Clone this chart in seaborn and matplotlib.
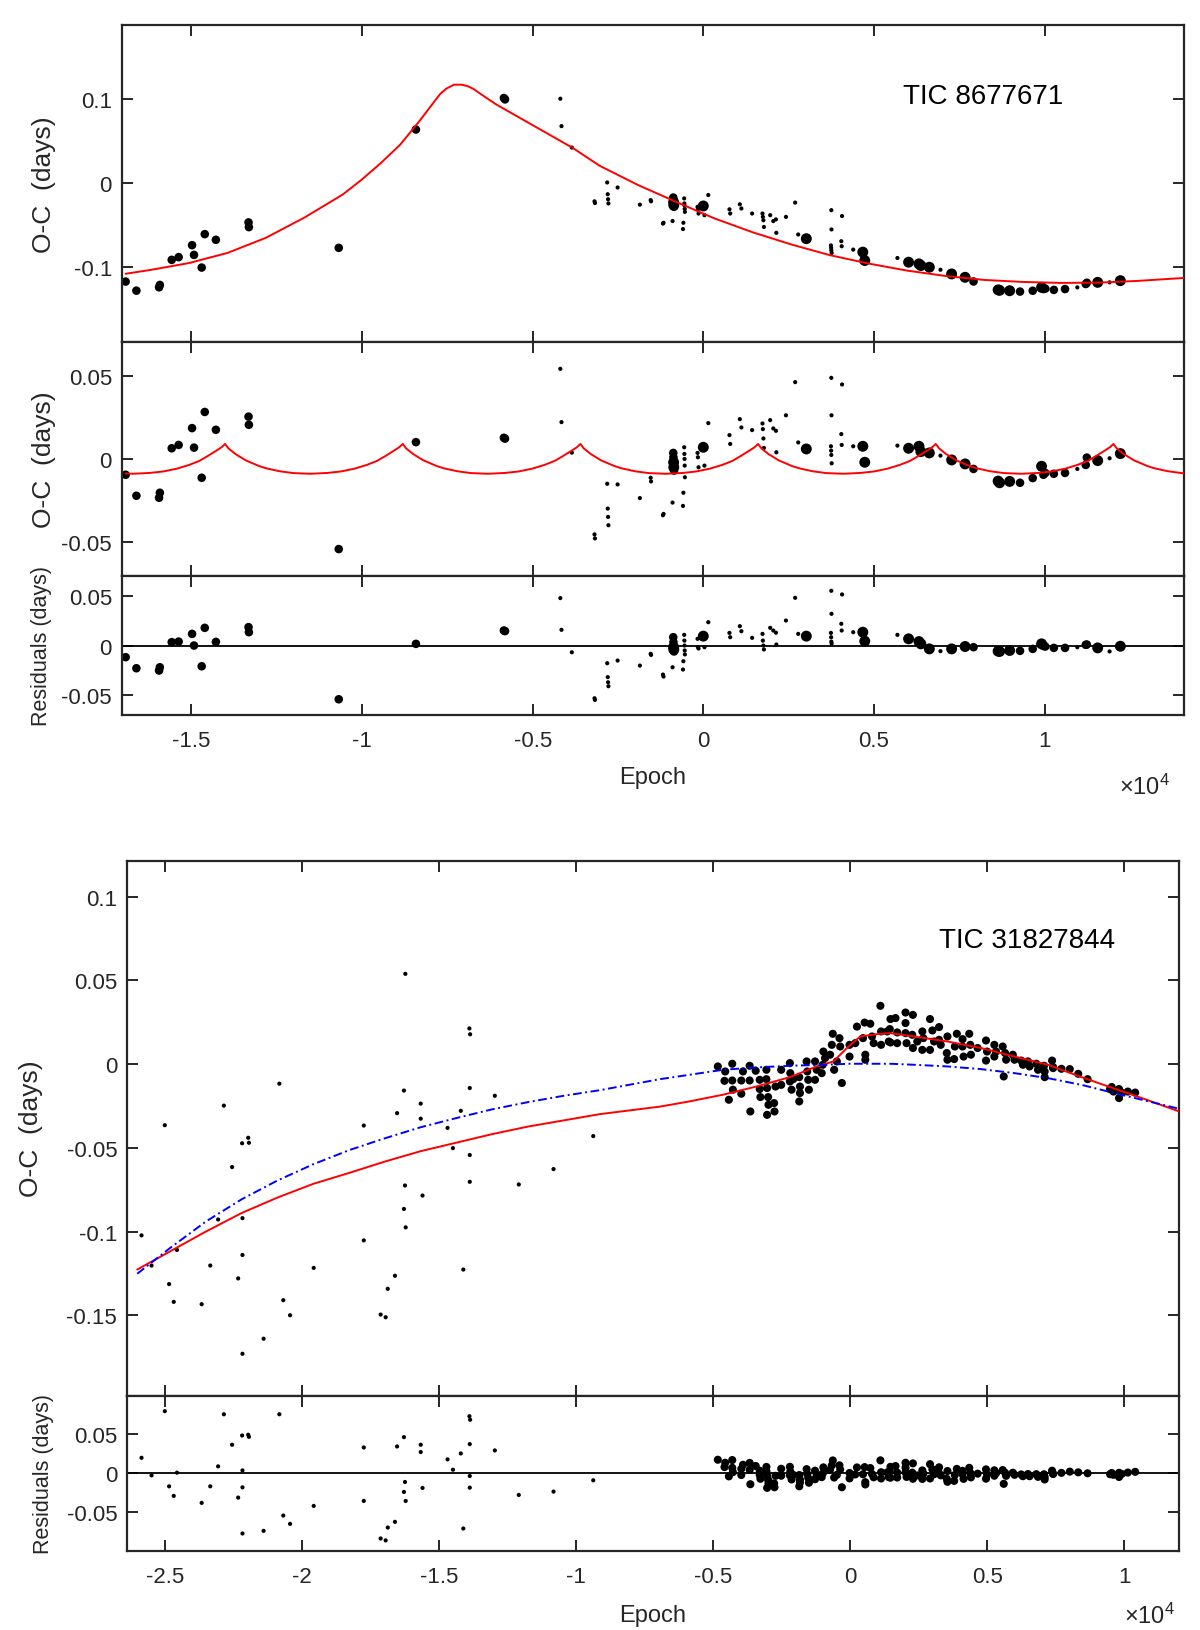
import numpy as np
import pandas as pd
import seaborn as sns
import matplotlib.pyplot as plt

# ---------------- TIC 8677671 (upper figure) ----------------
# epoch, O-C, O-C minus first fit, final residuals, point weight (1 small .. 3 large)
epoch_a = [-16924, -16609, -15945, -15922, -15574, -15371, -14978, -14921, -14696, -14606,
           -14280, -13324, -13313, -10681, -8419, -5843, -5809, -4189, -4155, -3852,
           -3187, -3175, -2815, -2800, -2790, -2780, -2511, -1858, -1543, -1530,
           -1182, -1165, -901, -880, -875, -870, -865, -858, -596, -584,
           -560, -555, -550, -545, -540, -169, -158, -140, 0, 34,
           146, 766, 788, 1070, 1115, 1430, 1734, 1745, 1760, 1775,
           1959, 2050, 2128, 2140, 2421, 2691, 2781, 3018, 3750, 3755,
           3739, 3745, 3750, 3760, 4043, 4054, 4065, 4392, 4673, 4730,
           5687, 6014, 6318, 6374, 6622, 6948, 7275, 7669, 7917, 8637,
           8680, 8975, 9279, 9651, 9910, 9966, 10020, 10270, 10597, 10957,
           11205, 11236, 11554, 11903, 12218]
oc_a = [-0.1171, -0.1279, -0.1239, -0.1211, -0.0912, -0.0880, -0.0737, -0.0853, -0.1004, -0.0606,
        -0.0673, -0.0466, -0.0522, -0.0769, 0.0641, 0.1016, 0.1000, 0.1008, 0.0681, 0.0426,
        -0.0215, -0.0235, 0.0010, -0.0130, -0.0190, -0.0240, -0.0050, -0.0255, -0.0200, -0.0215,
        -0.0480, -0.0470, -0.0450, -0.0170, -0.0200, -0.0225, -0.0260, -0.0280, -0.0545, -0.0470,
        -0.0180, -0.0240, -0.0265, -0.0305, -0.0340, -0.0280, -0.0310, -0.0360, -0.0270, -0.0380,
        -0.0140, -0.0310, -0.0360, -0.0250, -0.0300, -0.0360, -0.0360, -0.0400, -0.0440, -0.0520,
        -0.0380, -0.0450, -0.0430, -0.0590, -0.0400, -0.0230, -0.0610, -0.0660, -0.0320, -0.0550,
        -0.0740, -0.0770, -0.0800, -0.0830, -0.0690, -0.0750, -0.0390, -0.0790, -0.0820, -0.0920,
        -0.0890, -0.0940, -0.0960, -0.0980, -0.1000, -0.1030, -0.1080, -0.1120, -0.1170, -0.1270,
        -0.1275, -0.1280, -0.1290, -0.1280, -0.1240, -0.1260, -0.1255, -0.1270, -0.1260, -0.1240,
        -0.1200, -0.1185, -0.1180, -0.1180, -0.1160]
lite_a = [-0.0095, -0.0221, -0.0233, -0.0203, 0.0064, 0.0084, 0.0185, 0.0068, -0.0113, 0.0282,
          0.0175, 0.0254, 0.0205, -0.0541, 0.0101, 0.0127, 0.0122, 0.0541, 0.0221, 0.0038,
          -0.0453, -0.0477, -0.0149, -0.0298, -0.0348, -0.0398, -0.0153, -0.0235, -0.0113, -0.0135,
          -0.0338, -0.0330, -0.0262, 0.0036, 0.0010, -0.0020, -0.0050, -0.0070, -0.0282, -0.0203,
          0.0070, 0.0030, 0.0000, -0.0040, -0.0110, 0.0036, 0.0010, -0.0050, 0.0070, -0.0040,
          0.0215, 0.0143, 0.0090, 0.0239, 0.0189, 0.0173, 0.0213, 0.0179, 0.0123, 0.0066,
          0.0233, 0.0183, 0.0169, 0.0040, 0.0262, 0.0461, 0.0099, 0.0060, 0.0487, 0.0262,
          0.0076, 0.0050, 0.0024, -0.0026, 0.0149, 0.0084, 0.0447, 0.0076, 0.0076, -0.0020,
          0.0080, 0.0064, 0.0076, 0.0044, 0.0036, 0.0020, -0.0006, -0.0030, -0.0060, -0.0133,
          -0.0143, -0.0135, -0.0143, -0.0115, -0.0044, -0.0095, -0.0084, -0.0089, -0.0084, -0.0060,
          -0.0036, 0.0008, -0.0010, 0.0004, 0.0032]
res_a = [-0.0118, -0.0230, -0.0253, -0.0220, 0.0034, 0.0040, 0.0118, 0.0000, -0.0210, 0.0179,
         0.0037, 0.0186, 0.0135, -0.0544, 0.0017, 0.0152, 0.0146, 0.0480, 0.0159, -0.0068,
         -0.0534, -0.0550, -0.0179, -0.0320, -0.0372, -0.0412, -0.0152, -0.0203, -0.0084, -0.0095,
         -0.0294, -0.0314, -0.0220, 0.0084, 0.0034, -0.0017, -0.0040, -0.0060, -0.0243, -0.0159,
         0.0108, 0.0050, 0.0000, -0.0050, -0.0090, 0.0068, -0.0017, -0.0030, 0.0095, -0.0017,
         0.0236, 0.0128, 0.0084, 0.0196, 0.0145, 0.0078, 0.0118, 0.0050, 0.0000, -0.0040,
         0.0179, 0.0152, 0.0130, 0.0010, 0.0253, 0.0483, 0.0118, 0.0095, 0.0554, 0.0321,
         0.0128, 0.0084, 0.0040, 0.0020, 0.0220, 0.0152, 0.0517, 0.0135, 0.0135, 0.0044,
         0.0108, 0.0068, 0.0040, 0.0017, -0.0034, -0.0057, -0.0034, -0.0010, -0.0017, -0.0057,
         -0.0060, -0.0050, -0.0054, -0.0034, 0.0017, -0.0005, -0.0010, -0.0024, -0.0024, -0.0017,
         0.0007, 0.0010, -0.0024, -0.0060, -0.0007]
weight_a = [2, 2, 2, 2, 2, 2, 2, 2, 2, 2,
            2, 2, 2, 2, 2, 2, 2, 1, 1, 1,
            1, 1, 1, 1, 1, 1, 1, 1, 1, 1,
            1, 1, 1, 2, 2, 3, 3, 2, 1, 1,
            1, 1, 1, 1, 1, 1, 1, 1, 3, 1,
            1, 1, 1, 1, 1, 1, 1, 1, 1, 1,
            1, 1, 1, 1, 1, 1, 1, 3, 1, 1,
            1, 1, 1, 1, 1, 1, 1, 1, 3, 3,
            1, 3, 3, 3, 3, 1, 3, 3, 2, 3,
            3, 3, 2, 2, 3, 2, 2, 2, 2, 1,
            2, 2, 3, 1, 3]

# long-period fit (upper panel)
fit1_epoch = [-16924, -16192, -15067, -13943, -12818, -11693, -10568, -10006, -9443, -8881,
              -8319, -8094, -7869, -7700, -7531, -7306, -7081, -6913, -6744, -6406,
              -6069, -4944, -3819, -3041, -1914, -788, 338, 1464, 2590, 3716,
              4842, 5968, 7095, 8221, 9347, 10473, 11599, 12725, 14070]
fit1_oc = [-0.1078, -0.1032, -0.0950, -0.0830, -0.0650, -0.0410, -0.0135, 0.0044, 0.0243, 0.0460,
           0.0740, 0.0860, 0.0980, 0.1068, 0.1127, 0.1175, 0.1175, 0.1159, 0.1127, 0.1032,
           0.0940, 0.0680, 0.0420, 0.0210, -0.0020, -0.0223, -0.0420, -0.0586, -0.0730, -0.0857,
           -0.0956, -0.1040, -0.1104, -0.1151, -0.1175, -0.1187, -0.1183, -0.1163, -0.1128]

# short-period fit (middle panel)
fit2_epoch = [-16924, -16715, -16215, -15815, -15415, -15065, -14765, -14515, -14265, -14115,
              -14010, -13910, -13710, -13410, -13010, -12810, -12410, -12010, -11510, -11010,
              -10610, -10210, -9860, -9560, -9310, -9060, -8910,
              -8805, -8705, -8505, -8205, -7805, -7605, -7205, -6805, -6305, -5805,
              -5405, -5005, -4655, -4355, -4105, -3855, -3705,
              -3600, -3500, -3300, -3000, -2600, -2400, -2000, -1600, -1100, -600,
              -200, 200, 550, 850, 1100, 1350, 1500,
              1605, 1705, 1905, 2205, 2605, 2805, 3205, 3605, 4105, 4605,
              5005, 5405, 5755, 6055, 6305, 6555, 6705,
              6810, 6910, 7110, 7410, 7810, 8010, 8410, 8810, 9310, 9810,
              10210, 10610, 10960, 11260, 11510, 11760, 11910,
              12015, 12115, 12315, 12615, 13015, 13215, 13615, 14015, 14070]
fit2_oc = [-0.0087, -0.0089, -0.0084, -0.0075, -0.0058, -0.0036, -0.0012, 0.0018, 0.0050, 0.0070,
           0.0090, 0.0063, 0.0030, -0.0008, -0.0043, -0.0056, -0.0074, -0.0085, -0.0089, -0.0084,
           -0.0075, -0.0058, -0.0036, -0.0012, 0.0018, 0.0050, 0.0070,
           0.0090, 0.0063, 0.0030, -0.0008, -0.0043, -0.0056, -0.0074, -0.0085, -0.0089, -0.0084,
           -0.0075, -0.0058, -0.0036, -0.0012, 0.0018, 0.0050, 0.0070,
           0.0090, 0.0063, 0.0030, -0.0008, -0.0043, -0.0056, -0.0074, -0.0085, -0.0089, -0.0084,
           -0.0075, -0.0058, -0.0036, -0.0012, 0.0018, 0.0050, 0.0070,
           0.0090, 0.0063, 0.0030, -0.0008, -0.0043, -0.0056, -0.0074, -0.0085, -0.0089, -0.0084,
           -0.0075, -0.0058, -0.0036, -0.0012, 0.0018, 0.0050, 0.0070,
           0.0090, 0.0063, 0.0030, -0.0008, -0.0043, -0.0056, -0.0074, -0.0085, -0.0089, -0.0084,
           -0.0075, -0.0058, -0.0036, -0.0012, 0.0018, 0.0050, 0.0070,
           0.0090, 0.0063, 0.0030, -0.0008, -0.0043, -0.0056, -0.0074, -0.0085, -0.0086]

# ---------------- TIC 31827844 (lower figure) ----------------
epoch_old = [-25849, -25483, -25000, -24843, -24674, -24556, -23655, -23342, -23055, -22846,
             -22546, -22324, -22180, -22167, -22167, -22167, -21958, -21932, -21397, -20822,
             -20679, -20431, -19569, -17742, -17742, -17128, -16945, -16867, -16606, -16527,
             -16279, -16279, -16240, -16227, -16214, -15666, -15666, -15600, -14687, -14491,
             -14204, -14112, -13890, -13864, -13877, -13877, -13877, -12963, -12089, -10822,
             -9373]
oc_old = [-0.1023, -0.1203, -0.0365, -0.1314, -0.1420, -0.1110, -0.1434, -0.1203, -0.0928, -0.0248,
          -0.0615, -0.1280, -0.0473, -0.0920, -0.1140, -0.1730, -0.0440, -0.0470, -0.1640, -0.0117,
          -0.1410, -0.1500, -0.1217, -0.0367, -0.1053, -0.1496, -0.1512, -0.1342, -0.1264, -0.0293,
          -0.0158, -0.0865, -0.0725, 0.0539, -0.0975, -0.0236, -0.0326, -0.0785, -0.0381, -0.0502,
          -0.0279, -0.1227, 0.0213, 0.0178, -0.0143, -0.0543, -0.0703, -0.0189, -0.0719, -0.0627,
          -0.0430]
res_old = [0.0200, -0.0026, 0.0800, -0.0167, -0.0290, 0.0009, -0.0380, -0.0167, 0.0090, 0.0760,
           0.0368, -0.0312, 0.0487, 0.0038, -0.0180, -0.0774, 0.0496, 0.0470, -0.0740, 0.0760,
           -0.0543, -0.0650, -0.0419, 0.0333, -0.0355, -0.0838, -0.0863, -0.0697, -0.0624, 0.0346,
           0.0466, -0.0239, -0.0111, 0.1160, -0.0355, 0.0368, 0.0274, -0.0188, 0.0180, 0.0047,
           0.0256, -0.0710, 0.0735, 0.0690, 0.0376, -0.0034, -0.0184, 0.0295, -0.0278, -0.0235,
           -0.0090]

epoch_tess = [-4830, -4560, -4586, -4303, -4303, -4280, -4427, -3973, -3973, -3912,
              -3668, -3668, -3643, -3448, -3301, -3301, -3276, -3057, -3057, -3032,
              -2995, -2982, -3032, -2776, -2762, -2725, -2518, -2518, -2201, -2186,
              -2201, -2139, -2079, -1859, -1834, -1834, -1859, -1591, -1568, -1532,
              -1507, -1284, -1223, -1284, -1040, -1003, -980, -918, -734, -672,
              -636, -587, -488, -393, -367, -305, -25, -25, 183, 245,
              465, 525, 550, 550, 733, 795, 855, 1100, 1125, 1125,
              1345, 1406, 1467, 1651, 1443, 1713, 2017, 2017, 2286, 1467,
              1713, 2017, 2054, 2262, 2286, 2446, 2629, 2629, 2666, 2910,
              2910, 2996, 3056, 3240, 3240, 3302, 3546, 3521, 3546, 3815,
              3790, 3888, 4097, 4134, 4097, 4341, 4378, 4402, 4647, 4952,
              4989, 4952, 5256, 5256, 5318, 5562, 5599, 5648, 5685, 5930,
              5991, 6236, 6297, 6481, 6540, 6786, 6848, 7068, 7091, 7091,
              7362, 7399, 7399, 7703, 8008, 8316, 8657, 9476, 9537, 9599,
              9804, 9804, 9904, 10124, 10393]
oc_tess = [-0.0014, -0.0044, -0.0100, 0.0002, -0.0098, -0.0153, -0.0213, -0.0098, -0.0177, -0.0044,
           -0.0010, -0.0098, -0.0283, -0.0040, -0.0094, -0.0149, -0.0197, -0.0034, -0.0090, -0.0143,
           -0.0197, -0.0243, -0.0303, -0.0233, -0.0283, -0.0134, -0.0124, -0.0034, 0.0006, -0.0054,
           -0.0104, -0.0153, -0.0090, -0.0078, -0.0134, -0.0173, -0.0223, 0.0016, -0.0044, -0.0094,
           -0.0153, 0.0016, -0.0034, -0.0094, -0.0054, -0.0004, 0.0075, 0.0036, 0.0056, 0.0115,
           0.0181, -0.0034, 0.0016, 0.0155, 0.0105, -0.0113, 0.0115, 0.0045, 0.0125, 0.0224,
           0.0155, 0.0248, 0.0056, 0.0026, 0.0241, 0.0165, 0.0125, 0.0348, 0.0195, 0.0115,
           0.0195, 0.0135, 0.0269, 0.0275, 0.0209, 0.0189, 0.0308, 0.0245, 0.0294, 0.0129,
           0.0125, 0.0185, 0.0125, 0.0175, 0.0096, 0.0135, 0.0195, 0.0085, 0.0155, 0.0269,
           0.0085, 0.0201, 0.0135, 0.0221, 0.0145, 0.0115, 0.0165, 0.0066, 0.0026, 0.0105,
           0.0030, 0.0181, 0.0149, 0.0045, 0.0105, 0.0181, 0.0115, 0.0056, 0.0096, 0.0141,
           0.0075, 0.0021, 0.0115, 0.0045, 0.0075, 0.0105, -0.0074, 0.0066, 0.0026, 0.0056,
           0.0026, 0.0021, -0.0004, 0.0016, -0.0014, 0.0002, -0.0034, -0.0010, -0.0078, -0.0044,
           0.0021, -0.0024, -0.0018, -0.0028, -0.0030, -0.0058, -0.0090, -0.0149, -0.0137, -0.0164,
           -0.0149, -0.0203, -0.0170, -0.0164, -0.0170]
res_tess = [0.0175, 0.0136, 0.0081, 0.0171, 0.0071, 0.0015, -0.0039, 0.0058, -0.0021, 0.0110,
            0.0134, 0.0046, -0.0140, 0.0095, 0.0034, -0.0021, -0.0070, 0.0083, 0.0027, -0.0027,
            -0.0083, -0.0129, -0.0187, -0.0129, -0.0179, -0.0032, -0.0031, 0.0059, 0.0084, 0.0023,
            -0.0026, -0.0079, -0.0020, -0.0022, -0.0080, -0.0119, -0.0167, 0.0054, -0.0008, -0.0060,
            -0.0121, 0.0034, -0.0020, -0.0076, -0.0049, -0.0001, 0.0077, 0.0035, 0.0046, 0.0102,
            0.0166, -0.0054, -0.0020, 0.0103, 0.0049, -0.0179, 0.0005, -0.0065, -0.0014, 0.0076,
            -0.0012, 0.0080, -0.0113, -0.0143, 0.0068, -0.0010, -0.0051, 0.0167, 0.0014, -0.0066,
            0.0012, -0.0049, 0.0084, 0.0094, 0.0024, 0.0010, 0.0136, 0.0073, 0.0128, -0.0056,
            -0.0054, 0.0013, -0.0046, 0.0009, -0.0070, -0.0027, 0.0038, -0.0072, -0.0002, 0.0118,
            -0.0066, 0.0052, -0.0012, 0.0078, 0.0002, -0.0026, 0.0030, -0.0070, -0.0109, -0.0021,
            -0.0097, 0.0057, 0.0032, -0.0071, -0.0012, 0.0071, 0.0006, -0.0052, -0.0004, 0.0051,
            -0.0013, -0.0069, 0.0039, -0.0031, 0.0002, 0.0042, -0.0135, 0.0007, -0.0032, 0.0008,
            -0.0019, -0.0014, -0.0037, -0.0009, -0.0037, -0.0011, -0.0045, -0.0012, -0.0079, -0.0045,
            0.0034, -0.0009, -0.0003, 0.0006, 0.0022, 0.0013, 0.0001, -0.0011, 0.0004, -0.0019,
            0.0007, -0.0047, -0.0008, 0.0010, 0.0019]

# full fit (red) and quadratic only (blue)
fitb_epoch = [-26005, -24804, -23499, -22193, -20888, -19582, -18277, -16971, -15666, -14360,
              -13054, -11749, -10443, -9137, -6943, -5869, -4647, -3424, -2201, -1223,
              -611, -121, 367, 978, 1467, 2323, 3546, 4768, 5991, 7213,
              8437, 9415, 10638, 12000]
fitb_oc = [-0.1227, -0.1118, -0.1000, -0.0889, -0.0797, -0.0715, -0.0650, -0.0582, -0.0520, -0.0469,
           -0.0418, -0.0373, -0.0336, -0.0299, -0.0254, -0.0223, -0.0183, -0.0134, -0.0078, -0.0014,
           0.0016, 0.0096, 0.0165, 0.0179, 0.0185, 0.0165, 0.0135, 0.0096, 0.0045, -0.0004,
           -0.0078, -0.0134, -0.0203, -0.0283]
quad_epoch = [-26005, -24804, -23499, -22193, -20888, -19582, -18277, -16971, -15666, -14360,
              -13054, -11749, -10443, -9137, -6943, -5869, -4647, -3424, -2201, -980,
              0, 1467, 2323, 3546, 4768, 5991, 7213, 8437, 9415, 10638,
              12000]
quad_oc = [-0.1252, -0.1098, -0.0940, -0.0807, -0.0695, -0.0598, -0.0514, -0.0443, -0.0377, -0.0322,
           -0.0270, -0.0227, -0.0189, -0.0156, -0.0090, -0.0064, -0.0034, -0.0020, -0.0010, -0.0004,
           0.0002, 0.0002, -0.0004, -0.0014, -0.0030, -0.0054, -0.0084, -0.0124, -0.0164, -0.0213,
           -0.0267]

xt_a = [-15000, -10000, -5000, 0, 5000, 10000]
xt_a_lab = ['-1.5', '-1', '-0.5', '0', '0.5', '1']
xt_b = [-25000, -20000, -15000, -10000, -5000, 0, 5000, 10000]
xt_b_lab = ['-2.5', '-2', '-1.5', '-1', '-0.5', '0', '0.5', '1']

# ---------------- style ----------------
sns.set_theme(style='white')
plt.rcParams['font.family'] = ['Liberation Sans', 'DejaVu Sans']
plt.rcParams['mathtext.fontset'] = 'custom'
plt.rcParams['mathtext.rm'] = 'Liberation Sans'
plt.rcParams['axes.unicode_minus'] = False

dark = '#262626'
tick_fs = 16
sizes_a = {1: 9, 2: 38, 3: 62}


def style(ax, xlim, ylim, yt, ytl, xt, xtl=None):
    ax.set_xlim(xlim)
    ax.set_ylim(ylim)
    ax.set_yticks(yt, ytl)
    if xtl is None:
        ax.set_xticks(xt, [''] * len(xt))
    else:
        ax.set_xticks(xt, xtl)
    for s in ax.spines.values():
        s.set_color(dark)
        s.set_linewidth(1.6)
    ax.tick_params(direction='in', length=8, width=1.4, color=dark, labelcolor=dark,
                   labelsize=tick_fs, top=True, right=True, bottom=True, left=True)
    ax.tick_params(axis='x', pad=11)
    ax.tick_params(axis='y', pad=7)
    ax.set_xlabel('')
    ax.set_ylabel('')


fig = plt.figure(figsize=(12, 16.31), dpi=100)

xl_a = (-17040, 14070)
ax1 = fig.add_axes([0.1014, 0.790, 0.8849, 0.194])
ax2 = fig.add_axes([0.1014, 0.646, 0.8849, 0.144])
ax3 = fig.add_axes([0.1014, 0.5612, 0.8849, 0.0848])

# upper panel
sns.scatterplot(x=epoch_a, y=oc_a, size=weight_a, sizes=sizes_a, color='black',
                edgecolor='none', legend=False, ax=ax1, zorder=2)
sns.lineplot(x=fit1_epoch, y=fit1_oc, color='red', lw=1.4, estimator=None, sort=False,
             ax=ax1, zorder=3)
style(ax1, xl_a, (-0.1885, 0.1885), [-0.1, 0, 0.1], ['-0.1', '0', '0.1'], xt_a)
ax1.text(0.811, 0.775, 'TIC 8677671', transform=ax1.transAxes, fontsize=20,
         ha='center', va='center', color='black')

# middle panel
sns.scatterplot(x=epoch_a, y=lite_a, size=weight_a, sizes=sizes_a, color='black',
                edgecolor='none', legend=False, ax=ax2, zorder=2)
sns.lineplot(x=fit2_epoch, y=fit2_oc, color='red', lw=1.4, estimator=None, sort=False,
             ax=ax2, zorder=3)
style(ax2, xl_a, (-0.0705, 0.0705), [-0.05, 0, 0.05], ['-0.05', '0', '0.05'], xt_a)

# residuals
ax3.axhline(0, color='black', lw=1.3, zorder=1)
sns.scatterplot(x=epoch_a, y=res_a, size=weight_a, sizes=sizes_a, color='black',
                edgecolor='none', legend=False, ax=ax3, zorder=2)
style(ax3, xl_a, (-0.07, 0.07), [-0.05, 0, 0.05], ['-0.05', '0', '0.05'], xt_a, xt_a_lab)

fig.text(0.0364, 0.887, 'O-C  (days)', rotation=90, ha='center', va='center', fontsize=19, color=dark)
fig.text(0.0364, 0.718, 'O-C  (days)', rotation=90, ha='center', va='center', fontsize=19, color=dark)
fig.text(0.0347, 0.604, 'Residuals (days)', rotation=90, ha='center', va='center', fontsize=15.5, color=dark)
fig.text(0.544, 0.523, 'Epoch', ha='center', va='center', fontsize=17, color=dark)
fig.text(0.954, 0.517, r'$\times\mathregular{10^4}$', ha='center', va='center', fontsize=17, color=dark)

# lower figure
xl_b = (-26380, 12000)
ax4 = fig.add_axes([0.1058, 0.1437, 0.8769, 0.3280])
ax5 = fig.add_axes([0.1058, 0.0484, 0.8769, 0.0953])

sns.scatterplot(x=epoch_old, y=oc_old, s=9, color='black', edgecolor='none', ax=ax4, zorder=2)
sns.scatterplot(x=epoch_tess, y=oc_tess, s=34, color='black', edgecolor='none', ax=ax4, zorder=2)
sns.lineplot(x=fitb_epoch, y=fitb_oc, color='red', lw=1.4, estimator=None, sort=False,
             ax=ax4, zorder=3)
sns.lineplot(x=quad_epoch, y=quad_oc, color='blue', lw=1.4, estimator=None, sort=False,
             linestyle=(0, (4.5, 1.8, 1.0, 1.8)), ax=ax4, zorder=3)
style(ax4, xl_b, (-0.198, 0.1215), [-0.15, -0.1, -0.05, 0, 0.05, 0.1],
      ['-0.15', '-0.1', '-0.05', '0', '0.05', '0.1'], xt_b)
ax4.text(0.855, 0.8525, 'TIC 31827844', transform=ax4.transAxes, fontsize=20,
         ha='center', va='center', color='black')

ax5.axhline(0, color='black', lw=1.3, zorder=1)
sns.scatterplot(x=epoch_old, y=res_old, s=9, color='black', edgecolor='none', ax=ax5, zorder=2)
sns.scatterplot(x=epoch_tess, y=res_tess, s=34, color='black', edgecolor='none', ax=ax5, zorder=2)
style(ax5, xl_b, (-0.1, 0.1), [-0.05, 0, 0.05], ['-0.05', '0', '0.05'], xt_b, xt_b_lab)

fig.text(0.026, 0.308, 'O-C  (days)', rotation=90, ha='center', va='center', fontsize=19, color=dark)
fig.text(0.0364, 0.096, 'Residuals (days)', rotation=90, ha='center', va='center', fontsize=15.5, color=dark)
fig.text(0.544, 0.0095, 'Epoch', ha='center', va='center', fontsize=17, color=dark)
fig.text(0.958, 0.001, r'$\times\mathregular{10^4}$', ha='center', va='bottom', fontsize=17, color=dark)

fig.savefig('out.png', dpi=100, facecolor='white')
